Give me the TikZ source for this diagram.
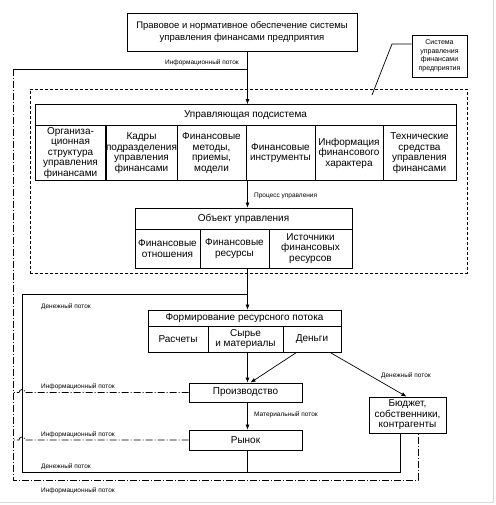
\documentclass[tikz,border=0pt]{standalone}
\usepackage{fontspec}
\setmainfont{Liberation Sans}
\usetikzlibrary{arrows.meta,calc}
\begin{document}
\begin{tikzpicture}[x=1pt,y=-1pt,
  box/.style={draw, line width=0.8pt, inner sep=0.5pt, align=center, font=\fontsize{10}{10.5}\selectfont},
  sz/.style 2 args={minimum width=#1pt, minimum height=#2pt},
  lbl/.style={font=\fontsize{6.5}{7.5}\selectfont, inner sep=1pt},
  arr/.style={-{Latex[length=5pt,width=4pt]}, line width=0.7pt},
  ln/.style={line width=0.7pt},
  info/.style={line width=0.7pt, dash pattern=on 7pt off 2pt on 1pt off 2pt},
  ]
\useasboundingbox (0,0) rectangle (495,505);
\draw[black!15, line width=0.6pt] (0,502) -- (493,502) -- (493,0);

% boxes
\node[box, sz={230}{38}, font=\fontsize{9.5}{12}\selectfont] (top) at (242,32) {Правовое и нормативное обеспечение системы\\управления финансами предприятия};
\node[box, sz={55}{42}, font=\fontsize{7}{8.5}\selectfont] (sys) at (439.5,56) {Система\\управления\\финансами\\предприятия};
\node[draw, line width=0.7pt, dash pattern=on 3pt off 2pt, sz={437}{184}] (subsys) at (248.5,181) {};

\node[box, sz={421}{21}] (ups) at (245.5,115) {Управляющая подсистема};
\node[box, sz={71}{55}] (c1) at (70.5,153) {Организа-\\ционная\\структура\\управления\\финансами};
\node[box, sz={71}{55}] (c2) at (141.5,153) {Кадры\\подразделения\\управления\\финансами};
\node[box, sz={69}{55}] (c3) at (211.5,153) {Финансовые\\методы,\\приемы,\\модели};
\node[box, sz={69}{55}] (c4) at (280.5,153) {Финансовые\\инструменты};
\node[box, sz={68}{55}] (c5) at (349,153) {Информация\\финансового\\характера};
\node[box, sz={73}{55}] (c6) at (419.5,153) {Технические\\средства\\управления\\финансами};

\node[box, sz={217}{21}] (obj) at (243.5,218.5) {Объект управления};
\node[box, sz={65}{39}] (o1) at (167.5,248.5) {Финансовые\\отношения};
\node[box, sz={69}{39}] (o2) at (234.5,248.5) {Финансовые\\ресурсы};
\node[box, sz={83}{39}] (o3) at (310.5,248.5) {Источники\\финансовых\\ресурсов};

\node[box, sz={193}{16}] (form) at (244.5,318) {Формирование ресурсного потока};
\node[box, sz={60}{26}] (f1) at (178,339) {Расчеты};
\node[box, sz={75}{26}] (f2) at (245.5,339) {Сырье\\и материалы};
\node[box, sz={58}{26}] (f3) at (312,339) {Деньги};

\node[box, sz={113}{19}] (prod) at (245.5,392.5) {Производство};
\node[box, sz={113}{20}] (market) at (245.5,440) {Рынок};
\node[box, sz={77}{36}] (budget) at (407.5,415) {Бюджет,\\собственники,\\контрагенты};

% coordinates
\coordinate (ax) at (247.5,0);
\coordinate (iTL) at (13,69);
\coordinate (iBL) at (13,480);
\coordinate (iBR) at (418,480);
\coordinate (mTL) at (22,294);
\coordinate (mBL) at (22,472);
\coordinate (mBR) at (400,472);
\coordinate (s1) at (392,44);
\coordinate (s2) at (372,95);

% connectors
\draw[arr] (top.south -| ax) -- (ups.north -| ax);
\draw[ln] (ax |- iTL) -- (iTL);
\draw[info] (iTL) -- (iBL) -- (iBR) -- (budget.south -| iBR);
\draw[ln] (budget.south -| mBR) -- (mBR) -- (mBL) -- (mTL) -- (mTL -| ax);
\draw[ln] (market.south -| ax) -- (mBL -| ax);
\draw[arr] (c4.south -| ax) -- (obj.north -| ax);
\draw[arr] (o2.south -| ax) -- (form.north -| ax);
\draw[arr] (f2.south -| ax) -- (prod.north -| ax);
\draw[arr] ($(f3.south west)+(14,0)$) -- ($(prod.north -| ax)+(3,0)$);
\draw[arr] ($(f3.south)+(18,0)$) -- ($(budget.north)+(-1,0)$);
\draw[arr] (prod.south -| ax) -- (market.north -| ax);
\draw[info] (prod.west) -- ($(mTL |- prod.west)+(3,0)$) arc[start angle=0,end angle=180,radius=3pt] -- (iTL |- prod.west);
\draw[info] (market.west) -- ($(mTL |- market.west)+(3,0)$) arc[start angle=0,end angle=180,radius=3pt] -- (iTL |- market.west);
\draw[ln] (sys.west |- s1) -- (s1) -- (s2);

% labels
\node[lbl] (l1) at (202,63) {Информационный поток};
\node[lbl, anchor=west] (l2) at (253,196) {Процесс управления};
\node[lbl, anchor=west] (l3) at (40,307) {Денежный поток};
\node[lbl, anchor=south west] (l4) at (40,391) {Информационный поток};
\node[lbl, anchor=west] (l5) at (253,415) {Материальный поток};
\node[lbl, anchor=south west] (l6) at (40,439) {Информационный поток};
\node[lbl, anchor=south west] (l7) at (40,470.5) {Денежный поток};
\node[lbl, anchor=west] (l8) at (40,491) {Информационный поток};
\node[lbl, anchor=west] (l9) at (380,376) {Денежный поток};
\end{tikzpicture}
\end{document}
